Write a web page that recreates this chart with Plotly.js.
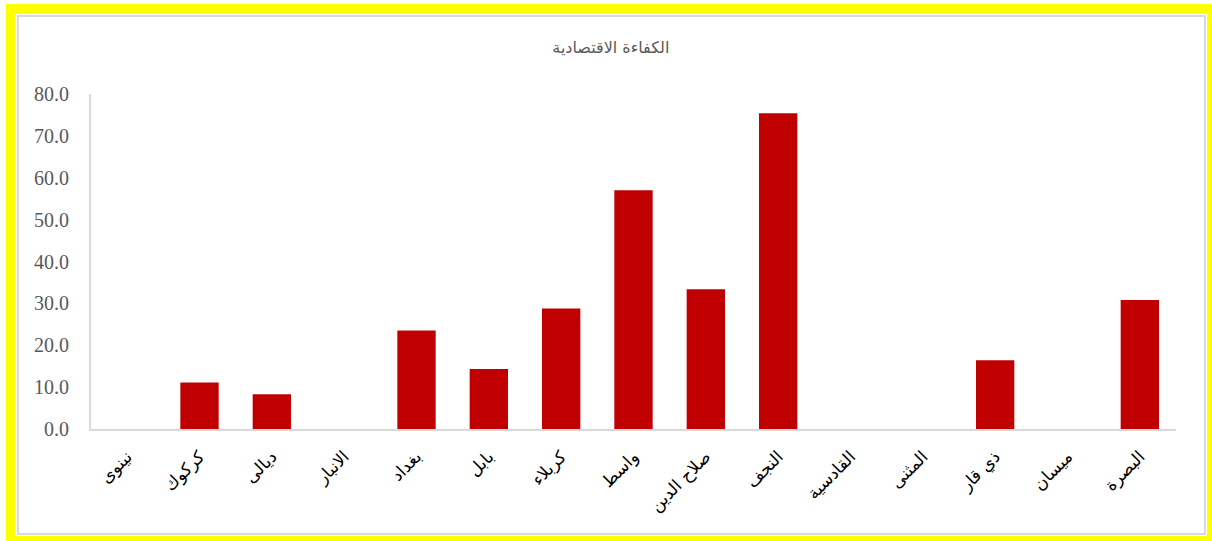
<!DOCTYPE html>
<html>
<head>
<meta charset="utf-8">
<script src="https://cdn.plot.ly/plotly-3.0.1.min.js"></script>
<style>
  html, body { margin: 0; padding: 0; background: #ffffff; }
  #wrap { position: relative; width: 1212px; height: 541px; overflow: hidden; }
  #chart { position: absolute; left: 0; top: 0; width: 1212px; height: 541px; }
  .frame-outer {
    position: absolute; left: 6px; top: 4px; width: 1206px; height: 537px;
    box-sizing: border-box; pointer-events: none;
    border-left: 9px solid #ffff00; border-top: 10px solid #ffff00;
    border-right: 5px solid #ffff00; border-bottom: 5px solid #ffff00;
  }
  .frame-inner {
    position: absolute; left: 17px; top: 15px; width: 1189px; height: 520px;
    box-sizing: border-box; pointer-events: none;
    border: 2px solid #d9d9d9;
  }
</style>
</head>
<body>
<div id="wrap">
  <div id="chart"></div>
  <div class="frame-outer"></div>
  <div class="frame-inner"></div>
</div>
<script>
// Governorates (x-axis categories)
const governorates = [
  'نينوى', 'كركوك', 'ديالى', 'الانبار', 'بغداد', 'بابل', 'كربلاء', 'واسط',
  'صلاح الدين', 'النجف', 'القادسية', 'المثنى', 'ذي قار', 'ميسان', 'البصرة'
];

// Economic efficiency score per governorate
const efficiency = [
  0, 11.1, 8.3, 0, 23.5, 14.3, 28.8, 57.0,
  33.4, 75.4, 0, 0, 16.4, 0, 30.8
];

// Y-axis ticks
const yTicks = [0, 10, 20, 30, 40, 50, 60, 70, 80];
const yTickText = yTicks.map(v => v.toFixed(1));

const chartTitle = 'الكفاءة الاقتصادية';

const trace = {
  type: 'bar',
  x: governorates,
  y: efficiency,
  marker: { color: '#c00000' },
  hoverinfo: 'x+y'
};

const layout = {
  width: 1212,
  height: 541,
  paper_bgcolor: '#ffffff',
  plot_bgcolor: '#ffffff',
  margin: { l: 91, r: 36, t: 94, b: 112 },
  bargap: 0.47,
  showlegend: false,
  title: {
    text: chartTitle,
    x: 0.504,
    xanchor: 'center',
    y: 0.913,
    yanchor: 'middle',
    font: { family: 'DejaVu Sans, Noto Sans, sans-serif', size: 16, color: '#595959' }
  },
  xaxis: {
    type: 'category',
    tickangle: -45,
    tickfont: { family: 'DejaVu Sans, sans-serif', size: 17, color: '#000000' },
    showline: true,
    linecolor: '#d9d9d9',
    linewidth: 2,
    ticks: '',
    showgrid: false,
    zeroline: false,
    ticklabelstandoff: 9,
    fixedrange: true
  },
  yaxis: {
    range: [0, 80],
    tickvals: yTicks,
    ticktext: yTickText,
    tickfont: { family: 'Liberation Serif, Times New Roman, serif', size: 20, color: '#595959' },
    showline: true,
    linecolor: '#d9d9d9',
    linewidth: 2,
    ticks: '',
    showgrid: false,
    zeroline: false,
    ticklabelstandoff: 16,
    fixedrange: true
  }
};

Plotly.newPlot('chart', [trace], layout, { displayModeBar: false, staticPlot: true });
</script>
</body>
</html>
